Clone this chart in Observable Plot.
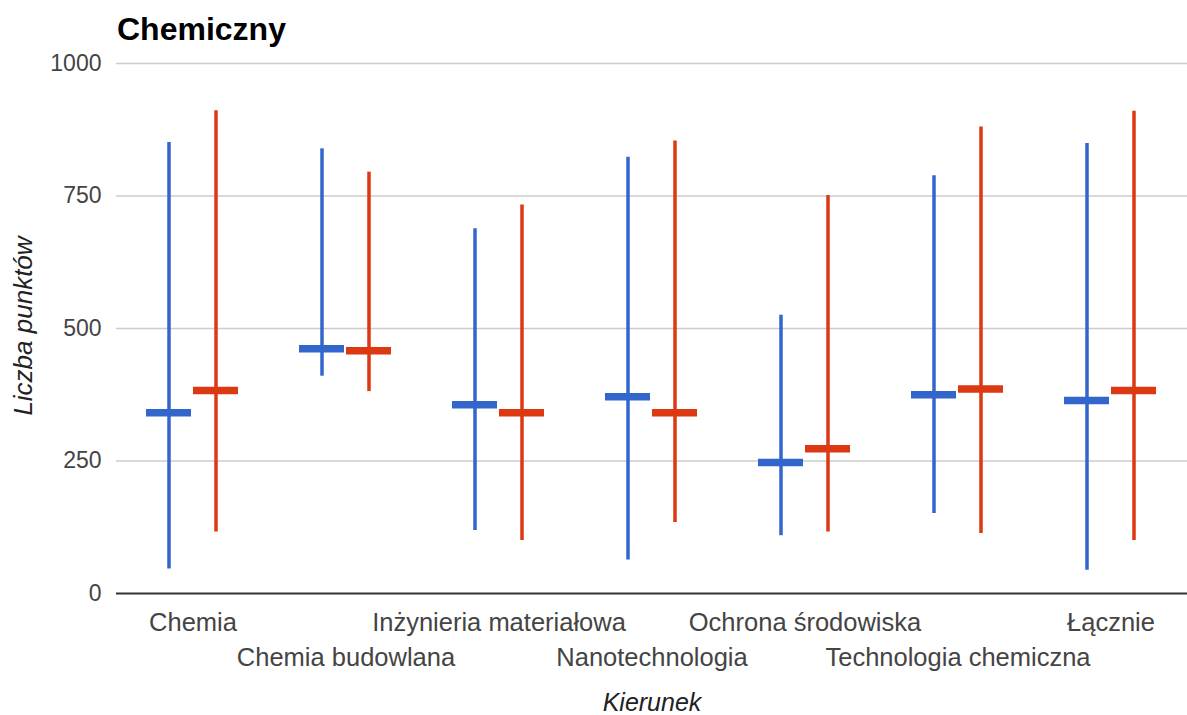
<!DOCTYPE html>
<html>
<head>
<meta charset="utf-8">
<script src="https://cdn.jsdelivr.net/npm/d3@7"></script>
<script src="https://cdn.jsdelivr.net/npm/@observablehq/plot@0.6"></script>
<style>
  html, body { margin: 0; padding: 0; background: #fff; }
  #wrap { position: relative; width: 1187px; height: 715px; font-family: "Liberation Sans", Arial, sans-serif; }
  #title { position: absolute; left: 117px; top: 13px; font-size: 32px; font-weight: bold; line-height: 1; color: #000; white-space: nowrap; }
  #chart { position: absolute; left: 0; top: 50px; }
  .axtitle { position: absolute; font-style: italic; line-height: 1; color: #222; white-space: nowrap; }
  #xtitle { left: 652px; top: 690px; font-size: 25px; transform: translateX(-50%); }
  #ytitle { left: 23px; top: 326px; font-size: 26px; transform: translate(-50%, -50%) rotate(-90deg); }
</style>
</head>
<body>
<div id="wrap">
  <div id="title">Chemiczny</div>
  <div id="chart"></div>
  <div id="xtitle" class="axtitle">Kierunek</div>
  <div id="ytitle" class="axtitle">Liczba punktów</div>
</div>
<script>
const categories = ["Chemia", "Chemia budowlana", "Inżynieria materiałowa", "Nanotechnologia", "Ochrona środowiska", "Technologia chemiczna", "Łącznie"];
const seriesNames = ["Seria 1", "Seria 2"];
const seriesColors = ["#3366cc", "#dc3912"];
const yTicks = [0, 250, 500, 750, 1000];

const blueMin = [46, 410, 119, 63, 109, 151, 44];
const blueMax = [851, 839, 688, 823, 525, 788, 849];
const blueMid = [341, 462, 356, 371, 247, 375, 364];
const redMin  = [116, 381, 100, 134, 116, 113, 100];
const redMax  = [911, 795, 733, 854, 751, 880, 910];
const redMid  = [383, 458, 341, 341, 273, 386, 383];

const rows = [];
categories.forEach((c, i) => {
  rows.push({cat: c, s: seriesNames[0], lo: blueMin[i], hi: blueMax[i], mid: blueMid[i]});
  rows.push({cat: c, s: seriesNames[1], lo: redMin[i], hi: redMax[i], mid: redMid[i]});
});

const row1 = categories.filter((d, i) => i % 2 === 0);
const row2 = categories.filter((d, i) => i % 2 === 1);

const chart = Plot.plot({
  width: 1187,
  height: 665,
  marginTop: 13,
  marginBottom: 122,
  marginLeft: 115,
  marginRight: 0,
  style: {fontFamily: "'Liberation Sans', Arial, sans-serif", background: "#fff"},
  fx: {domain: categories, padding: 0, axis: null},
  x: {domain: seriesNames, paddingInner: 0.036, paddingOuter: 0.62, axis: null},
  y: {domain: [0, 1000], axis: null},
  color: {domain: seriesNames, range: seriesColors},
  marks: [
    Plot.gridY(yTicks.slice(1), {stroke: "#cccccc", strokeOpacity: 1, strokeWidth: 1.5}),
    Plot.axisY({ticks: yTicks, tickFormat: d => String(d), tickSize: 0, tickPadding: 15, fontSize: 23, color: "#444", label: null}),
    Plot.ruleY([0], {stroke: "#333", strokeWidth: 2}),
    Plot.ruleX(rows, {fx: "cat", x: "s", y1: "lo", y2: "hi", stroke: "s", strokeWidth: 3.5}),
    Plot.tickY(rows, {fx: "cat", x: "s", y: "mid", stroke: "s", strokeWidth: 7.5}),
    Plot.axisFx({anchor: "bottom", ticks: row1, tickSize: 0, tickPadding: 19, fontSize: 25.5, color: "#444", label: null}),
    Plot.axisFx({anchor: "bottom", ticks: row2, tickSize: 0, tickPadding: 54, fontSize: 25.5, color: "#444", label: null})
  ]
});
document.getElementById("chart").appendChild(chart);
</script>
</body>
</html>
